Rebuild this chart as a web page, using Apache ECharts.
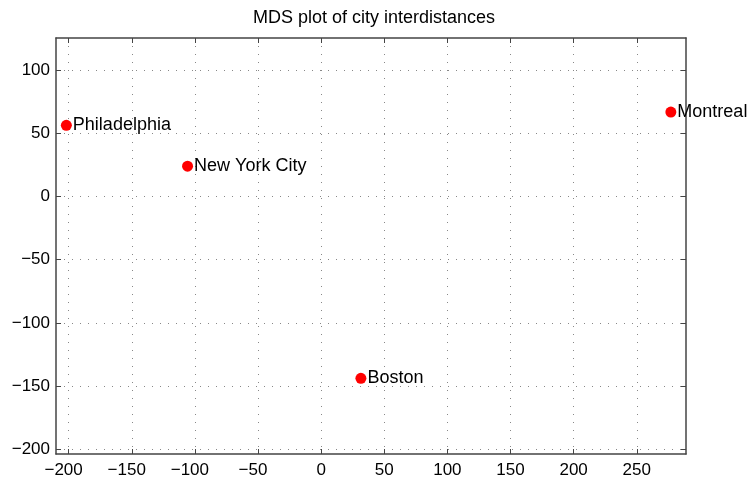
<!DOCTYPE html>
<html><head><meta charset="utf-8">
<script src="https://cdn.jsdelivr.net/npm/echarts@6/dist/echarts.min.js"></script>
<style>html,body{margin:0;padding:0;background:#fff}#c{width:748px;height:487px}</style>
</head><body><div id="c"></div>
<script>
const cities = ["Philadelphia", "New York City", "Boston", "Montreal"];
const xVals = [-201.8, -105.8, 31.5, 277];
const yVals = [56.6, 24.2, -144, 67.1];
const xTicks = [-200, -150, -100, -50, 0, 50, 100, 150, 200, 250];
const yTicks = [-200, -150, -100, -50, 0, 50, 100];
const titleText = "MDS plot of city interdistances";

const FONT = "Liberation Sans, Arial, sans-serif";
const fmt = v => String(v).replace('-', '\u2212');
const fmtX = v => v < 0 ? '{n|' + fmt(v) + '}' : String(v);
const frame = {show: true, lineStyle: {color: '#444', width: 1.5}};
const grid = {show: true, lineStyle: {color: '#888', type: [1, 7], width: 1}};

function xAx(pos, labels) {
  return {
    type: 'value', position: pos, min: -210, max: 289,
    axisLine: Object.assign({onZero: false}, frame),
    axisTick: {show: true, inside: true, length: 5, customValues: xTicks, lineStyle: {color: '#444'}},
    axisLabel: {show: labels, customValues: xTicks, formatter: fmtX, color: '#000', fontSize: 17, fontFamily: FONT, margin: 8,
      rich: {n: {fontSize: 17, fontFamily: FONT, color: '#000', padding: [0, 10, 0, 0]}}},
    splitLine: labels ? grid : {show: false}
  };
}
function yAx(pos, labels) {
  return {
    type: 'value', position: pos, min: -204, max: 125.8,
    axisLine: Object.assign({onZero: false}, frame),
    axisTick: {show: true, inside: true, length: 5, customValues: yTicks, lineStyle: {color: '#444'}},
    axisLabel: {show: labels, customValues: yTicks, formatter: fmt, color: '#000', fontSize: 17, fontFamily: FONT, margin: 6},
    splitLine: labels ? grid : {show: false}
  };
}

const chart = echarts.init(document.getElementById('c'), null, {renderer: 'canvas'});
chart.setOption({
  animation: false,
  backgroundColor: '#fff',
  title: {text: titleText, left: 'center', top: 4, textStyle: {fontSize: 18, fontWeight: 'normal', color: '#000', fontFamily: FONT}},
  grid: {left: 56, right: 62, top: 38, bottom: 33, containLabel: false},
  xAxis: [xAx('bottom', true), xAx('top', false)],
  yAxis: [yAx('left', true), yAx('right', false)],
  series: [{
    type: 'scatter', xAxisIndex: 0, yAxisIndex: 0,
    symbolSize: 11,
    itemStyle: {color: '#ff0000', opacity: 1},
    data: cities.map((c, i) => ({value: [xVals[i], yVals[i]], name: c})),
    label: {show: true, position: 'right', distance: 1, formatter: p => p.name, color: '#000', opacity: 1, fontSize: 18, fontFamily: FONT}
  }]
});
</script></body></html>
